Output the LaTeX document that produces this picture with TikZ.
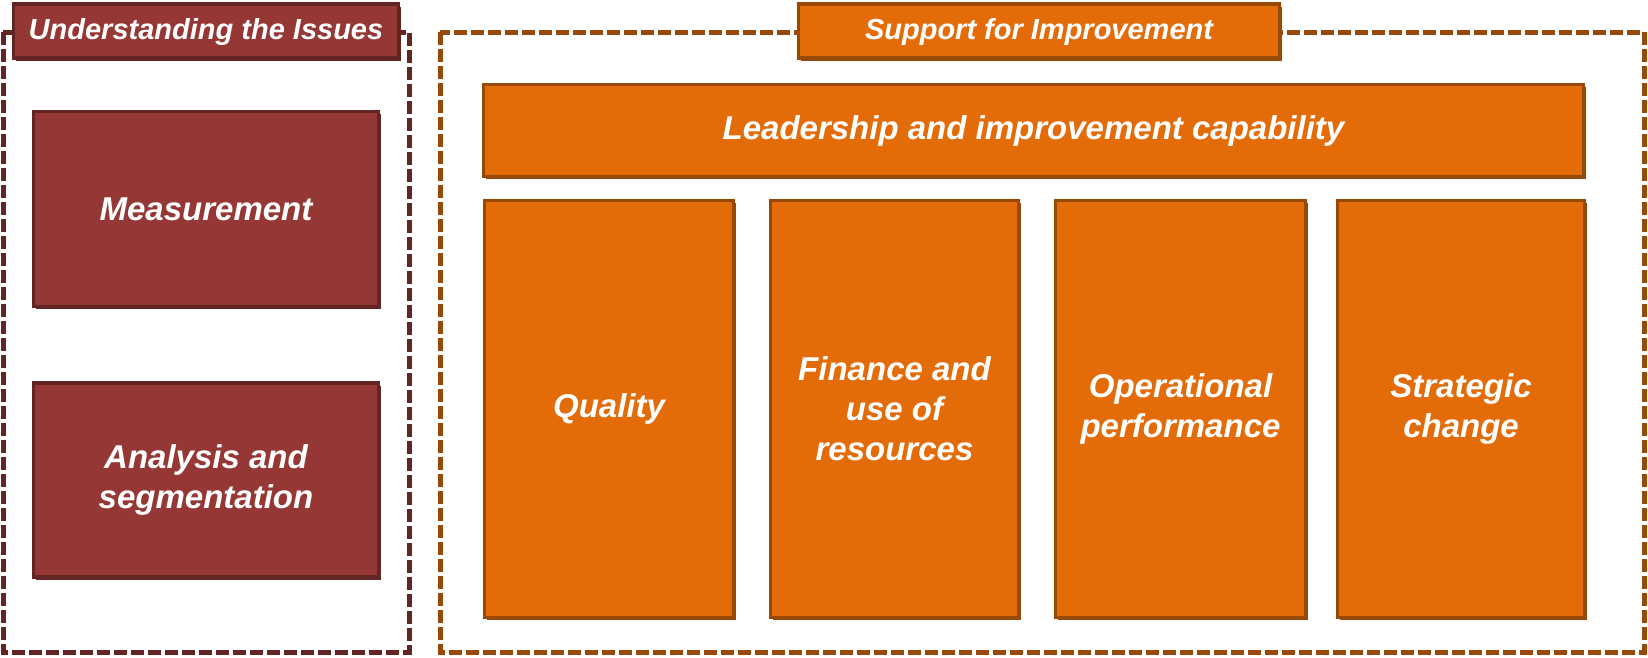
\documentclass[tikz,border=0pt]{standalone}
\usepackage{fontspec}
\setmainfont{Liberation Sans}
\usepackage{xcolor}
\usetikzlibrary{shadows}
\definecolor{issuefill}{HTML}{953735}
\definecolor{issueline}{HTML}{632523}
\definecolor{supportfill}{HTML}{E36C09}
\definecolor{supportline}{HTML}{984807}

\begin{document}
\begin{tikzpicture}[x=1pt,y=-1pt]
    \tikzstyle{frame}=[draw,line width=5pt,dash pattern=on 13pt off 4pt]
    \tikzstyle{box}=[draw,rectangle,line width=3.5pt,inner sep=0pt,text=white,align=center,font=\fontsize{33}{40}\selectfont\bfseries\itshape]
    \tikzstyle{issue}=[box,draw=issueline,fill=issuefill,general shadow={fill=issueline,shadow xshift=2pt,shadow yshift=-2.5pt}]
    \tikzstyle{support}=[box,draw=supportline,fill=supportfill,general shadow={fill=supportline,shadow xshift=2pt,shadow yshift=-2.5pt}]
    \tikzstyle{title}=[font=\fontsize{29}{32}\selectfont\bfseries\itshape,text depth=4pt]
    \useasboundingbox (0,0) rectangle (1648,657);
    \draw[frame,issueline] (3,32) rectangle (409,652);
    \draw[frame,supportline] (440,32) rectangle (1644,652);
    \node[issue,title,minimum width=385pt,minimum height=54pt] (issues) at (206,31) {Understanding the Issues};
    \node[support,title,minimum width=481pt,minimum height=54pt] (improve) at (1039,31) {Support for Improvement};
    \node[issue,minimum width=345pt,minimum height=195pt] (meas) at (206,209) {Measurement};
    \node[issue,minimum width=345pt,minimum height=194pt] (anal) at (206,480) {Analysis and\\segmentation};
    \node[support,minimum width=1100pt,minimum height=92pt] (lead) at (1033.5,130.5) {Leadership and improvement capability};
    \node[support,minimum width=249pt,minimum height=417pt] (qual) at (609,409) {Quality};
    \node[support,minimum width=248pt,minimum height=417pt] (fin) at (894.5,409) {Finance and\\use of\\resources};
    \node[support,minimum width=250pt,minimum height=417pt] (oper) at (1180.5,409) {Operational\\performance};
    \node[support,minimum width=247pt,minimum height=417pt] (strat) at (1461,409) {Strategic\\change};
\end{tikzpicture}
\end{document}
